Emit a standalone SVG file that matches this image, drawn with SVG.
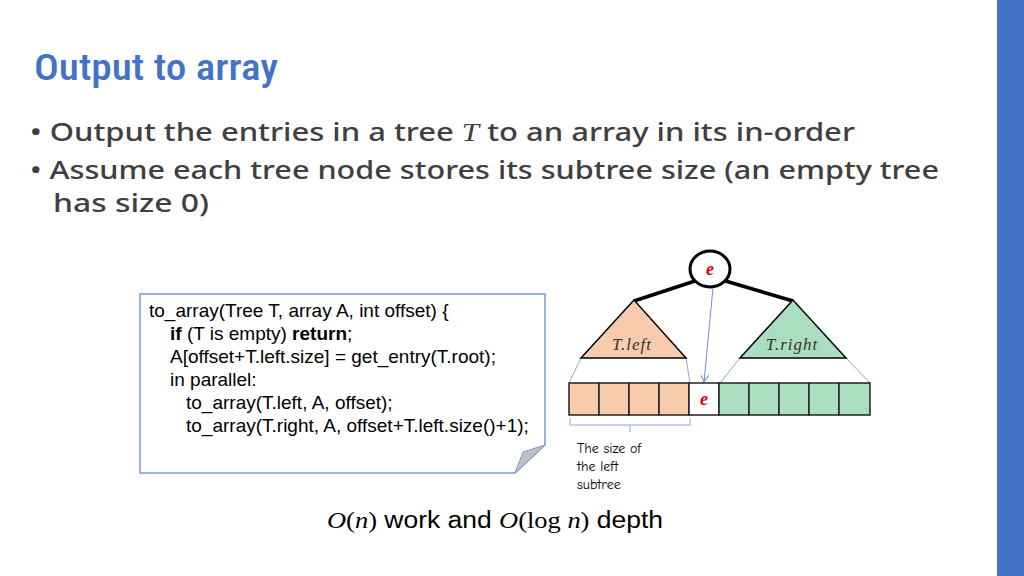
<svg xmlns="http://www.w3.org/2000/svg" width="1024" height="576" viewBox="0 0 1024 576">
<style>
.t{font-family:"Noto Sans","DejaVu Sans",sans-serif;fill:#404040;font-size:26px;font-weight:500}
.c{font-family:"Liberation Sans",Arial,sans-serif;font-size:19px;fill:#000}
.m{font-family:"Liberation Serif",serif;font-style:italic}
.cell{stroke:#222;stroke-width:1.5}
.thin{stroke:#8fa8d8;stroke-width:1;fill:none}
</style>
<defs><marker id="ar" markerWidth="8" markerHeight="8" refX="7" refY="4" orient="auto"><path d="M0,0 L7,4 L0,8" fill="none" stroke="#6f8fd0" stroke-width="1"/></marker></defs>
<rect x="0" y="0" width="1024" height="576" fill="#fff"/>
<rect x="997" y="0" width="27" height="576" fill="#4472c4"/>
<text x="34" y="80" font-family="Roboto Condensed,Roboto,sans-serif" font-size="37" font-weight="500" fill="#4472c4" textLength="244" lengthAdjust="spacingAndGlyphs">Output to array</text>
<g class="t">
<text x="30" y="141" textLength="825" lengthAdjust="spacingAndGlyphs">• Output the entries in a tree <tspan class="m" font-weight="normal">T</tspan> to an array in its in-order</text>
<text x="30" y="179" textLength="909" lengthAdjust="spacingAndGlyphs">• Assume each tree node stores its subtree size (an empty tree</text>
<text x="53" y="212" textLength="156" lengthAdjust="spacingAndGlyphs">has size 0)</text>
</g>
<g id="code">
<path d="M140,294 H545 V445 L515,473 H140 Z" fill="#fff" stroke="#7b9bd1" stroke-width="1.5"/>
<path d="M545,445 L523,452 L515,473 Z" fill="#c0c0c0" stroke="#7b9bd1" stroke-width="1"/>
<text class="c" x="149" y="317">to_array(Tree T, array A, int offset) {</text>
<text class="c" x="170" y="340"><tspan font-weight="bold">if</tspan> (T is empty) <tspan font-weight="bold">return</tspan>;</text>
<text class="c" x="170" y="363">A[offset+T.left.size] = get_entry(T.root);</text>
<text class="c" x="170" y="386">in parallel:</text>
<text class="c" x="186" y="409">to_array(T.left, A, offset);</text>
<text class="c" x="186" y="432">to_array(T.right, A, offset+T.left.size()+1);</text>
</g>
<g id="connectors">
<line x1="698" y1="280" x2="634" y2="301" stroke="#000" stroke-width="3.5"/>
<line x1="722" y1="280" x2="793" y2="301" stroke="#000" stroke-width="3.5"/>
<line x1="713" y1="288" x2="704" y2="382" stroke="#6f8fd0" stroke-width="1" marker-end="url(#ar)"/>
<line class="thin" x1="581" y1="358" x2="569" y2="383"/>
<line class="thin" x1="686" y1="358" x2="690" y2="383"/>
<line class="thin" x1="740" y1="358" x2="720" y2="383"/>
<line class="thin" x1="846" y1="358" x2="870" y2="383"/>
<path class="thin" d="M570,418 V425 H690 V418 M630,425 V432"/>
</g>
<g id="root"><ellipse cx="710" cy="269" rx="20" ry="18" fill="#fff" stroke="#000" stroke-width="3"/><text x="710" y="275" text-anchor="middle" font-family="Liberation Serif" font-style="italic" font-weight="bold" font-size="18" fill="#e00000">e</text></g>
<g id="tleft"><polygon points="634,300 581,358 686,358" fill="#f8cbad" stroke="#000" stroke-width="1.5"/><text x="632" y="350" text-anchor="middle" class="m" font-size="17" fill="#333" letter-spacing="1">T.left</text></g>
<g id="tright"><polygon points="793,300 740,358 846,358" fill="#a9dfbf" stroke="#000" stroke-width="1.5"/><text x="792" y="350" text-anchor="middle" class="m" font-size="17" fill="#333" letter-spacing="1">T.right</text></g>
<g id="array">
<rect class="cell" x="569" y="383" width="30" height="32" fill="#f8cbad"/>
<rect class="cell" x="599" y="383" width="30" height="32" fill="#f8cbad"/>
<rect class="cell" x="629" y="383" width="30" height="32" fill="#f8cbad"/>
<rect class="cell" x="659" y="383" width="30" height="32" fill="#f8cbad"/>
<rect class="cell" x="689" y="383" width="30" height="32" fill="#fff"/>
<rect class="cell" x="719" y="383" width="30" height="32" fill="#a9dfbf"/>
<rect class="cell" x="749" y="383" width="30" height="32" fill="#a9dfbf"/>
<rect class="cell" x="779" y="383" width="30" height="32" fill="#a9dfbf"/>
<rect class="cell" x="809" y="383" width="30" height="32" fill="#a9dfbf"/>
<rect class="cell" x="839" y="383" width="31" height="32" fill="#a9dfbf"/>
<text x="704" y="405" text-anchor="middle" font-family="Liberation Serif" font-style="italic" font-weight="bold" font-size="18" fill="#e00000">e</text>
</g>
<g font-family="Comic Neue,DejaVu Sans,sans-serif" font-size="14" fill="#000">
<text x="577" y="453">The size of</text><text x="577" y="471">the left</text><text x="577" y="489">subtree</text>
</g>
<text x="495" y="528" text-anchor="middle" font-family="Liberation Sans,sans-serif" font-size="23" fill="#000" textLength="336" lengthAdjust="spacingAndGlyphs"><tspan font-family="Liberation Serif" font-style="italic">O</tspan><tspan font-family="Liberation Serif">(</tspan><tspan font-family="Liberation Serif" font-style="italic">n</tspan><tspan font-family="Liberation Serif">)</tspan> work and <tspan font-family="Liberation Serif" font-style="italic">O</tspan><tspan font-family="Liberation Serif">(log </tspan><tspan font-family="Liberation Serif" font-style="italic">n</tspan><tspan font-family="Liberation Serif">)</tspan> depth</text>
</svg>
